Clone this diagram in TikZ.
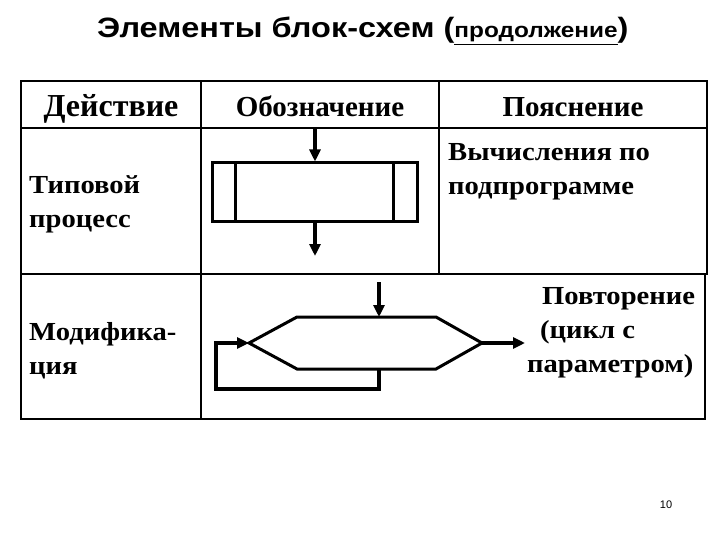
\documentclass[tikz,border=0pt]{standalone}
\usepackage{fontspec}
\usepackage{graphicx}
\setmainfont{Liberation Serif}
\setsansfont{Liberation Sans}
\usetikzlibrary{arrows.meta}
\newcommand{\stretchtxt}[2]{\scalebox{#1}[1]{#2}}
\tikzset{
  grid/.style={line width=1.4pt},
  sym/.style={line width=3pt},
  flow/.style={line width=3.2pt,-{Triangle[length=12pt,width=11pt]}},
  loopline/.style={line width=4.5pt},
  hdr/.style={inner sep=0pt,anchor=base,font=\bfseries\fontsize{29}{34}\selectfont},
  txt/.style={inner sep=0pt,anchor=base west,font=\bfseries\fontsize{26}{30}\selectfont},
}
\begin{document}
\begin{tikzpicture}[x=1pt,y=-1pt]
\useasboundingbox[fill=white] (0,0) rectangle (720,540);
% title
\node[inner sep=0pt,anchor=base west] (title) at (97,38)
  {\stretchtxt{1.16}{\sffamily\bfseries\fontsize{28}{32}\selectfont Элементы блок-схем (\fontsize{21}{24}\selectfont\underline{продолжение}\fontsize{28}{32}\selectfont)}};
% upper table
\draw[grid] (21,81) rectangle (707,274);
\draw[grid] (21,128) -- (707,128);
\draw[grid] (201,81) -- (201,274);
\draw[grid] (439,81) -- (439,274);
% lower table
\draw[grid] (21,274) rectangle (705,419);
\draw[grid] (201,274) -- (201,419);
% headers
\node[hdr,font=\bfseries\fontsize{32}{36}\selectfont] (h1) at (111,117) {Действие};
\node[hdr] (h2) at (320,117) {Обозначение};
\node[hdr] (h3) at (573,117) {Пояснение};
% row 1 texts
\node[txt] (t1a) at (29,194) {\stretchtxt{1.1}{Типовой}};
\node[txt] (t1b) at (29,228) {\stretchtxt{1.1}{процесс}};
\node[txt] (t2a) at (448,161) {\stretchtxt{1.1}{Вычисления по}};
\node[txt] (t2b) at (448,195) {\stretchtxt{1.1}{подпрограмме}};
% row 2 texts
\node[txt] (t3a) at (29,340) {\stretchtxt{1.1}{Модифика-}};
\node[txt] (t3b) at (29,374) {\stretchtxt{1.1}{ция}};
\node[txt] (t4a) at (542,304) {\stretchtxt{1.1}{Повторение}};
\node[txt] (t4b) at (540,338) {\stretchtxt{1.1}{(цикл с}};
\node[txt] (t4c) at (527,372) {\stretchtxt{1.1}{параметром)}};
% predefined process symbol
\node[draw,sym,minimum width=205pt,minimum height=59pt,inner sep=0pt] (proc) at (314.5,192.5) {};
\draw[sym] ([xshift=25pt]proc.north west) -- ([xshift=25pt]proc.south west);
\draw[sym] ([xshift=-25pt]proc.north east) -- ([xshift=-25pt]proc.south east);
\coordinate (pin) at (315,129);
\coordinate (pout) at (315,256);
\draw[flow] (pin) -- (proc.north -| pin);
\draw[flow] (proc.south -| pout) -- (pout);
% loop (modification) symbol
\coordinate (hl) at (249,343);
\coordinate (hr) at (482,343);
\coordinate (htl) at (297,317);
\coordinate (htr) at (436,317);
\coordinate (hbl) at (297,369);
\coordinate (hbr) at (436,369);
\draw[sym,line join=miter] (hl) -- (htl) -- (htr) -- (hr) -- (hbr) -- (hbl) -- cycle;
\coordinate (lin) at (379,282);
\coordinate (lout) at (525,343);
\draw[flow] (lin) -- (379,317);
\draw[flow] (hr) -- (lout);
\coordinate (lb) at (379,369);
\coordinate (lc1) at (379,389);
\coordinate (lc2) at (216,389);
\coordinate (lc3) at (216,343);
\draw[loopline,line join=miter] (lb) -- (lc1) -- (lc2) -- (lc3) -- (236,343);
\draw[flow] (230,343) -- (hl);
% page number
\node[inner sep=0pt,anchor=base] (pg) at (666,508) {\sffamily\fontsize{11}{13}\selectfont 10};
\end{tikzpicture}
\end{document}
